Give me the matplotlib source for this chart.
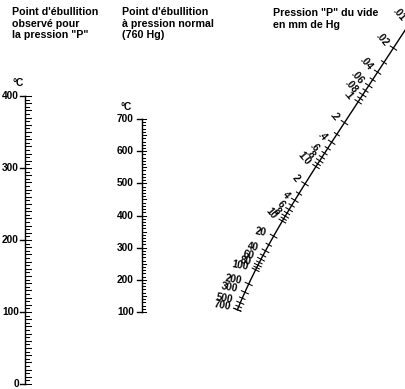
import numpy as np
import matplotlib
matplotlib.use("Agg")
import matplotlib.pyplot as plt

plt.rcParams["font.family"] = ["Liberation Sans", "DejaVu Sans"]
plt.rcParams["font.weight"] = "bold"

# ---------------------------------------------------------------------------
# Nomograph content
# ---------------------------------------------------------------------------

HEAD_OBS  = "Point d'ébullition\nobservé pour\nla pression \"P\""
HEAD_NORM = "Point d'ébullition\nà pression normal\n(760 Hg)"
HEAD_P    = "Pression \"P\" du vide\nen mm de Hg"
UNIT      = "°C"

# observed boiling point (left scale), °C
OBS_TICKS = [0, 100, 200, 300, 400]
OBS_MINOR = 5
# boiling point at normal pressure (middle scale), °C
NORM_TICKS = [100, 200, 300, 400, 500, 600, 700]
NORM_MINOR = 10
# vacuum pressure (right curved scale), mm Hg
P_VALUES = [0.01, 0.02, 0.04, 0.06, 0.08, 0.1, 0.2, 0.4, 0.6, 0.8, 1.0,
            2, 4, 6, 8, 10, 20, 40, 60, 80, 100, 200, 300, 500, 700]
P_LABELS = [".01", ".02", ".04", ".06", ".08", ".1", ".2", ".4", ".6", ".8",
            "1.0", "2", "4", "6", "8", "10", "20", "40", "60", "80", "100",
            "200", "300", "500", "700"]

# ---------------------------------------------------------------------------
# Scale geometry (canvas in pixels, y down)
# ---------------------------------------------------------------------------
W, H = 406, 389
OBS_X, OBS_Y0, OBS_Y1 = 25, 384, 96        # y of 0 °C and 400 °C
NORM_X, NORM_Y0, NORM_Y1 = 142, 312, 119   # y of 100 °C and 700 °C

# curved pressure scale: reading of the printed curve (mm Hg -> px)
CAL_P = [0.02, 0.04, 0.1, 0.2, 0.4, 1, 2, 4, 10, 20, 40, 100, 200, 700]
CAL_X = [392, 380, 358, 343, 332, 318, 303, 293, 283, 275, 267, 255, 247, 238]
CAL_Y = [51, 69, 100, 123, 142, 167, 187, 202, 218, 235, 252, 268, 285, 310]
cx = np.poly1d(np.polyfit(np.log10(CAL_P), CAL_X, 3))
cy = np.poly1d(np.polyfit(np.log10(CAL_P), CAL_Y, 3))
dcx, dcy = cx.deriv(), cy.deriv()


def obs_y(t):
    return OBS_Y0 + (OBS_Y1 - OBS_Y0) * (t - 0) / 400.0


def norm_y(t):
    return NORM_Y0 + (NORM_Y1 - NORM_Y0) * (t - 100) / 600.0


def p_xy(p):
    u = np.log10(p)
    return cx(u), cy(u)


def p_normal(p):
    u = np.log10(p)
    tx, ty = dcx(u), dcy(u)
    n = np.hypot(tx, ty)
    return -ty / n, tx / n


LW = 1.0
TLW = 0.75
fig = plt.figure(figsize=(W / 100, H / 100), dpi=100)
ax = fig.add_axes([0, 0, 1, 1])
ax.set_xlim(0, W)
ax.set_ylim(H, 0)
ax.axis("off")

# headers
hkw = dict(fontsize=7.7, fontweight="bold", va="top", ha="left", linespacing=1.2)
ax.text(12, 7, HEAD_OBS, **hkw)
ax.text(122, 7, HEAD_NORM, **hkw)
ax.text(273, 8, HEAD_P, **hkw)

# left scale
ax.plot([OBS_X, OBS_X], [obs_y(0), obs_y(400)], color="k", lw=LW)
for t in range(0, 401, OBS_MINOR):
    ln = 6 if t % 10 == 0 else 4
    ax.plot([OBS_X, OBS_X + ln], [obs_y(t)] * 2, color="k", lw=TLW)
for t in OBS_TICKS:
    ax.plot([OBS_X - 5, OBS_X], [obs_y(t)] * 2, color="k", lw=LW)
    ax.text(OBS_X - 6, obs_y(t), str(t), fontsize=7.3, ha="right", va="center")
ax.text(13, obs_y(400) - 13, UNIT, fontsize=7.3, ha="left", va="center")

# middle scale
ax.plot([NORM_X, NORM_X], [norm_y(100), norm_y(700)], color="k", lw=LW)
for t in range(100, 701, NORM_MINOR):
    ln = 4 if t % 50 == 0 else 3
    ax.plot([NORM_X, NORM_X + ln], [norm_y(t)] * 2, color="k", lw=TLW)
for t in NORM_TICKS:
    ax.plot([NORM_X - 5, NORM_X], [norm_y(t)] * 2, color="k", lw=LW)
    ax.text(NORM_X - 8, norm_y(t), str(t), fontsize=7.3, ha="right", va="center")
ax.text(121, norm_y(700) - 12, UNIT, fontsize=7.3, ha="left", va="center")

# pressure curve
pp = np.logspace(np.log10(0.008), np.log10(700), 300)
xs, ys = p_xy(pp)
ax.plot(xs, ys, color="k", lw=LW)
minor = [m * 10.0 ** e for e in range(-2, 3) for m in range(1, 10)]
minor = [p for p in minor if p <= 700]
for p in minor + [700]:
    x, y = p_xy(p)
    nx, ny = p_normal(p)
    ln = 3.8 if p in P_VALUES else 3.0
    ax.plot([x - nx * ln, x + nx * ln], [y - ny * ln, y + ny * ln],
            color="k", lw=TLW)
for p, lab in zip(P_VALUES, P_LABELS):
    x, y = p_xy(p)
    rot = -50 if p <= 10 else -10
    ax.text(x - 7, y - 3, lab, fontsize=7.2, ha="right", va="center",
            rotation=rot, rotation_mode="anchor")

fig.savefig("out.png", dpi=100)
